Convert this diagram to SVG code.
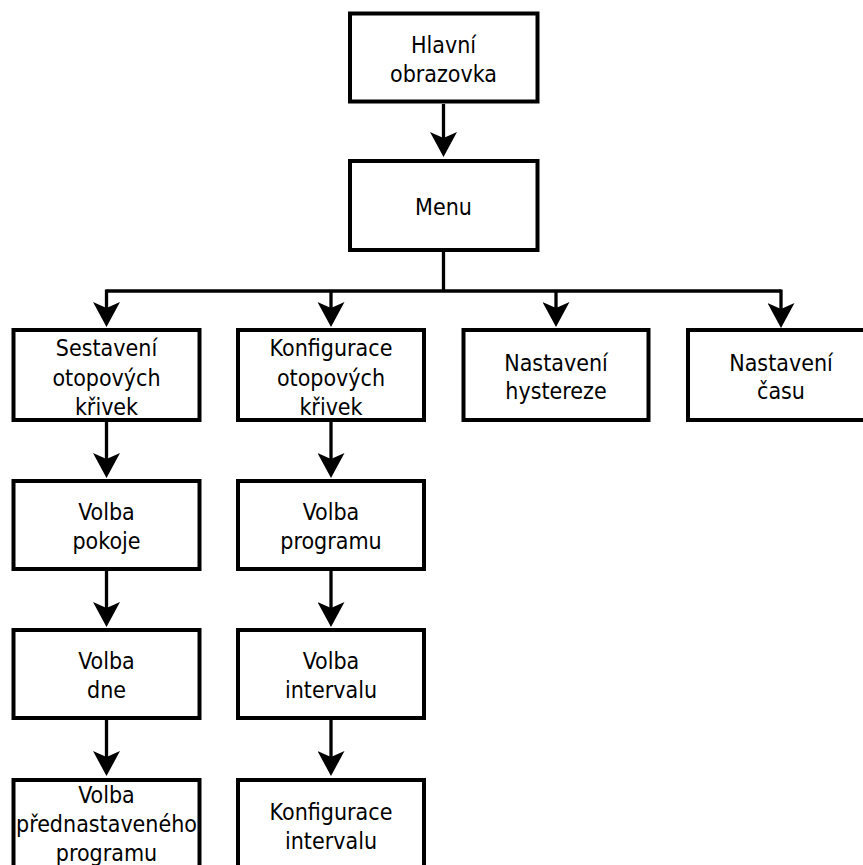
<svg xmlns="http://www.w3.org/2000/svg" width="863" height="865" viewBox="0 0 863 865">
  <style>
    .box { fill: #ffffff; stroke: #000000; stroke-width: 4; }
    .lbl { font-family: "DejaVu Sans Condensed", "DejaVu Sans", Verdana, sans-serif; font-size: 23px; fill: #000000; text-anchor: middle; }
    .edge { fill: none; stroke: #000000; stroke-width: 3.3; }
  </style>
  <defs>
    <marker id="arr" markerUnits="userSpaceOnUse" markerWidth="26" markerHeight="27" viewBox="0 0 26 27" refX="6" refY="13.5" orient="auto">
      <path d="M0,0 L25,13.5 L0,27 L6,13.5 Z" fill="#000000"/>
    </marker>
  </defs>
  <rect width="863" height="865" fill="#ffffff"/>

  <g id="connectors">
    <path class="edge" d="M443.5,104 V138" marker-end="url(#arr)"/>
    <path class="edge" d="M443.5,252 V291"/>
    <path class="edge" d="M106.5,291 H781"/>
    <path class="edge" d="M106.5,289.5 V308" marker-end="url(#arr)"/>
    <path class="edge" d="M331,291 V308" marker-end="url(#arr)"/>
    <path class="edge" d="M556,291 V308" marker-end="url(#arr)"/>
    <path class="edge" d="M781,289.5 V309" marker-end="url(#arr)"/>
    <path class="edge" d="M106.5,422 V459" marker-end="url(#arr)"/>
    <path class="edge" d="M331,422 V459" marker-end="url(#arr)"/>
    <path class="edge" d="M106.5,571 V608" marker-end="url(#arr)"/>
    <path class="edge" d="M331,571 V608" marker-end="url(#arr)"/>
    <path class="edge" d="M106.5,720 V757" marker-end="url(#arr)"/>
    <path class="edge" d="M331,720 V757" marker-end="url(#arr)"/>
  </g>

  <g id="hlavni">
    <rect class="box" x="350" y="13.5" width="187.5" height="88"/>
    <text class="lbl" x="443.5" y="53">Hlavní</text>
    <text class="lbl" x="443.5" y="82">obrazovka</text>
  </g>
  <g id="menu">
    <rect class="box" x="350" y="161" width="187.5" height="89"/>
    <text class="lbl" x="443.5" y="215">Menu</text>
  </g>

  <g id="sestaveni">
    <rect class="box" x="13.5" y="330" width="186" height="90"/>
    <text class="lbl" x="106.5" y="356">Sestavení</text>
    <text class="lbl" x="106.5" y="386">otopových</text>
    <text class="lbl" x="106.5" y="415">křivek</text>
  </g>
  <g id="konfigurace-krivek">
    <rect class="box" x="238" y="330" width="186" height="90"/>
    <text class="lbl" x="331" y="356">Konfigurace</text>
    <text class="lbl" x="331" y="386">otopových</text>
    <text class="lbl" x="331" y="415">křivek</text>
  </g>
  <g id="hystereze">
    <rect class="box" x="463.5" y="330" width="185" height="90"/>
    <text class="lbl" x="556" y="371">Nastavení</text>
    <text class="lbl" x="556" y="399">hystereze</text>
  </g>
  <g id="cas">
    <rect class="box" x="688" y="330" width="186" height="90"/>
    <text class="lbl" x="781" y="371">Nastavení</text>
    <text class="lbl" x="781" y="399">času</text>
  </g>

  <g id="volba-pokoje">
    <rect class="box" x="13.5" y="481" width="186" height="88"/>
    <text class="lbl" x="106.5" y="520">Volba</text>
    <text class="lbl" x="106.5" y="549">pokoje</text>
  </g>
  <g id="volba-programu">
    <rect class="box" x="238" y="481" width="186" height="88"/>
    <text class="lbl" x="331" y="520">Volba</text>
    <text class="lbl" x="331" y="549">programu</text>
  </g>

  <g id="volba-dne">
    <rect class="box" x="13.5" y="630" width="186" height="88"/>
    <text class="lbl" x="106.5" y="669">Volba</text>
    <text class="lbl" x="106.5" y="698">dne</text>
  </g>
  <g id="volba-intervalu">
    <rect class="box" x="238" y="630" width="186" height="88"/>
    <text class="lbl" x="331" y="669">Volba</text>
    <text class="lbl" x="331" y="698">intervalu</text>
  </g>

  <g id="volba-prednastaveneho">
    <rect class="box" x="13.5" y="780" width="186" height="90"/>
    <text class="lbl" x="106.5" y="803">Volba</text>
    <text class="lbl" x="106.5" y="832">přednastaveného</text>
    <text class="lbl" x="106.5" y="861">programu</text>
  </g>
  <g id="konfigurace-intervalu">
    <rect class="box" x="238" y="780" width="186" height="90"/>
    <text class="lbl" x="331" y="820">Konfigurace</text>
    <text class="lbl" x="331" y="849">intervalu</text>
  </g>
</svg>
